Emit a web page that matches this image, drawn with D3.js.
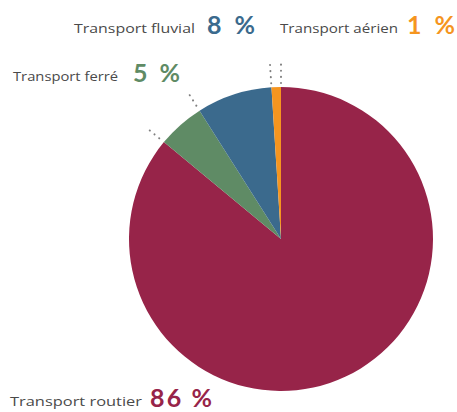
<!DOCTYPE html>
<html>
<head>
<meta charset="utf-8">
<script src="https://cdn.jsdelivr.net/npm/d3@7"></script>
<style>
  html, body { margin: 0; padding: 0; background: #fff; }
  svg { display: block; }
  .name { font-family: "Open Sans", Lato, sans-serif; font-size: 13.5px; fill: #4a4a4a; }
  .pct { font-family: Lato, "Open Sans", sans-serif; font-size: 25px; font-weight: 700; }
</style>
</head>
<body>
<svg id="chart" width="457" height="412"></svg>
<script>
// Répartition modale du transport de marchandises
const categories = ["Transport routier", "Transport ferré", "Transport fluvial", "Transport aérien"];
const values = [86, 5, 8, 1];
const colors = ["#972449", "#5f8b65", "#3b6a8d", "#f5951f"];

const svg = d3.select("#chart");
const cx = 281, cy = 239, radius = 152;

const pie = d3.pie().sort(null).value(d => d.value);
const arcs = pie(categories.map((c, i) => ({ name: c, value: values[i], color: colors[i] })));
const arc = d3.arc().innerRadius(0).outerRadius(radius);

const g = svg.append("g").attr("transform", `translate(${cx},${cy})`);

g.selectAll("path.slice")
  .data(arcs)
  .join("path")
  .attr("class", "slice")
  .attr("d", arc)
  .attr("fill", d => d.data.color);

// dotted leaders extending the slice boundaries
const leaderAngles = [arcs[1].startAngle, arcs[2].startAngle, arcs[3].startAngle, arcs[3].endAngle];
const leaderSpan = [[158, 172], [158, 176], [156, 176], [156, 176]];
leaderAngles.forEach((a, i) => {
  const [r0, r1] = leaderSpan[i];
  g.append("line")
    .attr("x1", Math.sin(a) * r0).attr("y1", -Math.cos(a) * r0)
    .attr("x2", Math.sin(a) * r1).attr("y2", -Math.cos(a) * r1)
    .attr("stroke", "#555")
    .attr("stroke-width", 2)
    .attr("stroke-linecap", "round")
    .attr("stroke-dasharray", "0.1 6")
    .attr("opacity", 0.75);
});

// labels: name then percentage
const labelPos = [
  { x: 10, y: 407, w: 132, px: 150, pw: 62 },   // routier
  { x: 13, y: 82, w: 105, px: 133, pw: 47 },    // ferré
  { x: 74, y: 34, w: 121, px: 207, pw: 48 },    // fluvial
  { x: 280, y: 34, w: 118, px: 407, pw: 48 }    // aérien
];
categories.forEach((c, i) => {
  const p = labelPos[i];
  svg.append("text").attr("class", "name")
    .attr("x", p.x).attr("y", p.y - 1)
    .attr("textLength", p.w).attr("lengthAdjust", "spacingAndGlyphs")
    .text(c);
  svg.append("text").attr("class", "pct")
    .attr("x", p.px).attr("y", p.y)
    .attr("textLength", p.pw).attr("lengthAdjust", "spacing")
    .attr("fill", colors[i])
    .text(values[i] + " %");
});
</script>
</body>
</html>
